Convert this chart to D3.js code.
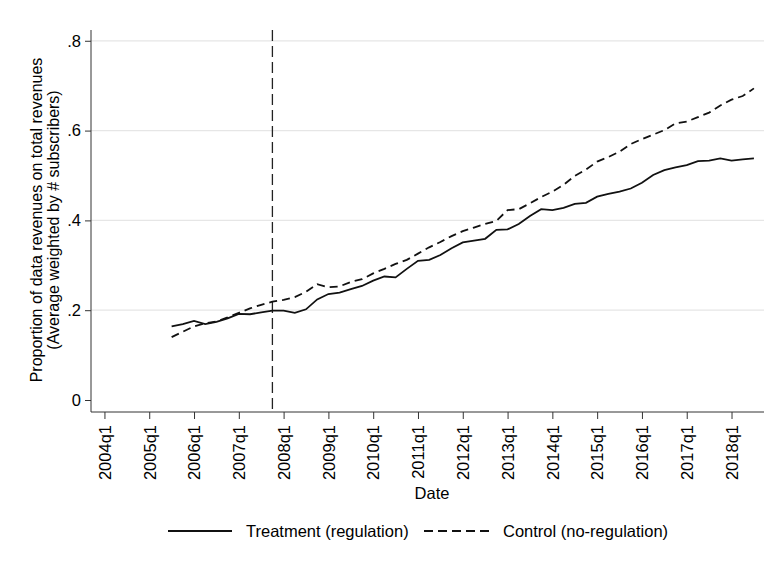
<!DOCTYPE html>
<html>
<head>
<meta charset="utf-8">
<script src="https://cdn.jsdelivr.net/npm/d3@7"></script>
<style>
  body { margin: 0; background: #fff; }
  svg { display: block; font-family: "Liberation Sans", Arial, Helvetica, sans-serif; }
</style>
</head>
<body>
<svg id="chart" width="775" height="569"></svg>
<script>
// ---- data (quarters since 2004q1; series start at 2005q3) ----
const startQuarter = 6; // 2005q3
const treatment = [0.164,0.169,0.176,0.169,0.174,0.182,0.192,0.191,0.195,0.199,
  0.199,0.194,0.202,0.224,0.236,0.239,0.247,0.254,0.266,0.275,
  0.273,0.292,0.310,0.312,0.323,0.338,0.351,0.355,0.359,0.379,
  0.380,0.392,0.410,0.425,0.423,0.428,0.437,0.439,0.453,0.459,
  0.464,0.471,0.484,0.501,0.512,0.518,0.523,0.532,0.533,0.538,
  0.533,0.536,0.538];
const control = [0.140,0.152,0.164,0.171,0.175,0.184,0.194,0.204,0.212,0.219,
  0.223,0.229,0.241,0.258,0.251,0.253,0.263,0.269,0.282,0.292,
  0.303,0.312,0.326,0.340,0.352,0.365,0.376,0.384,0.392,0.399,
  0.423,0.425,0.438,0.452,0.464,0.479,0.499,0.513,0.531,0.541,
  0.553,0.570,0.581,0.591,0.601,0.616,0.620,0.630,0.640,0.656,
  0.669,0.677,0.694];
const xTickLabels = ["2004q1","2005q1","2006q1","2007q1","2008q1","2009q1","2010q1",
  "2011q1","2012q1","2013q1","2014q1","2015q1","2016q1","2017q1","2018q1"];
const yTicks = [0, 0.2, 0.4, 0.6, 0.8];
const yTickLabels = ["0", ".2", ".4", ".6", ".8"];
const eventQuarter = 15; // 2007q4
const seriesNames = ["Treatment (regulation)", "Control (no-regulation)"];
const yTitle = ["Proportion of data revenues on total revenues", "(Average weighted by # subscribers)"];
const xTitle = "Date";

// ---- layout ----
const svg = d3.select("#chart");
const pL = 91, pR = 764, pT = 30, pB = 412;
const x = d3.scaleLinear().domain([-1.2, 58.9]).range([pL, pR]);
const y = d3.scaleLinear().domain([-0.0267, 0.824]).range([pB, pT]);
const FS = 16.5;

// gridlines
svg.append("g").selectAll("line")
  .data(yTicks.filter(d => d > 0))
  .join("line")
  .attr("x1", pL).attr("x2", pR)
  .attr("y1", d => y(d)).attr("y2", d => y(d))
  .attr("stroke", "#e6e6e6").attr("stroke-width", 1.2);

// y axis
const yAxis = d3.axisLeft(y).tickValues(yTicks)
  .tickFormat((d, i) => yTickLabels[i]).tickSize(6).tickPadding(4);
const gy = svg.append("g").attr("transform", `translate(${pL},0)`).call(yAxis);
gy.select(".domain").attr("d", `M0,${pT}V${pB}`).attr("stroke", "#333");
gy.selectAll(".tick line").attr("stroke", "#333");
gy.selectAll(".tick text").attr("font-size", FS).attr("fill", "#000")
  .attr("font-family", "Liberation Sans, Arial, sans-serif");

// x axis
const xTickVals = xTickLabels.map((d, i) => i * 4);
const xAxis = d3.axisBottom(x).tickValues(xTickVals)
  .tickFormat((d, i) => xTickLabels[i]).tickSize(7).tickPadding(4);
const gx = svg.append("g").attr("transform", `translate(0,${pB})`).call(xAxis);
gx.select(".domain").attr("d", `M${pL},0H${pR}`).attr("stroke", "#333");
gx.selectAll(".tick line").attr("stroke", "#333");
gx.selectAll(".tick text")
  .attr("font-size", FS).attr("fill", "#000")
  .attr("font-family", "Liberation Sans, Arial, sans-serif")
  .attr("transform", "rotate(-90)")
  .attr("text-anchor", "end")
  .attr("x", -13).attr("y", 0).attr("dy", "0.35em");

// axis titles
const yt = svg.append("text")
  .attr("transform", `translate(42,220) rotate(-90)`)
  .attr("text-anchor", "middle").attr("font-size", 16).attr("fill", "#000");
yt.selectAll("tspan").data(yTitle).join("tspan")
  .attr("x", 0).attr("dy", (d, i) => i === 0 ? 0 : 17).text(d => d);

svg.append("text").attr("x", 432).attr("y", 499)
  .attr("text-anchor", "middle").attr("font-size", FS).attr("fill", "#000").text(xTitle);

// event line
svg.append("line")
  .attr("x1", x(eventQuarter)).attr("x2", x(eventQuarter))
  .attr("y1", pT).attr("y2", pB)
  .attr("stroke", "#222").attr("stroke-width", 1.3)
  .attr("stroke-dasharray", "11,5");

// series lines
const line = d3.line().x((d, i) => x(startQuarter + i)).y(d => y(d));
svg.append("path").datum(control).attr("d", line)
  .attr("fill", "none").attr("stroke", "#111").attr("stroke-width", 1.8)
  .attr("stroke-dasharray", "8,5");
svg.append("path").datum(treatment).attr("d", line)
  .attr("fill", "none").attr("stroke", "#111").attr("stroke-width", 1.8);

// legend
const lg = svg.append("g");
lg.append("line").attr("x1", 168).attr("x2", 232).attr("y1", 531).attr("y2", 531)
  .attr("stroke", "#111").attr("stroke-width", 1.8);
lg.append("text").attr("x", 246).attr("y", 537).attr("font-size", FS).attr("fill", "#000").text(seriesNames[0]);
lg.append("line").attr("x1", 424).attr("x2", 490).attr("y1", 531).attr("y2", 531)
  .attr("stroke", "#111").attr("stroke-width", 1.8).attr("stroke-dasharray", "9,5");
lg.append("text").attr("x", 503).attr("y", 537).attr("font-size", FS).attr("fill", "#000").text(seriesNames[1]);
</script>
</body>
</html>
